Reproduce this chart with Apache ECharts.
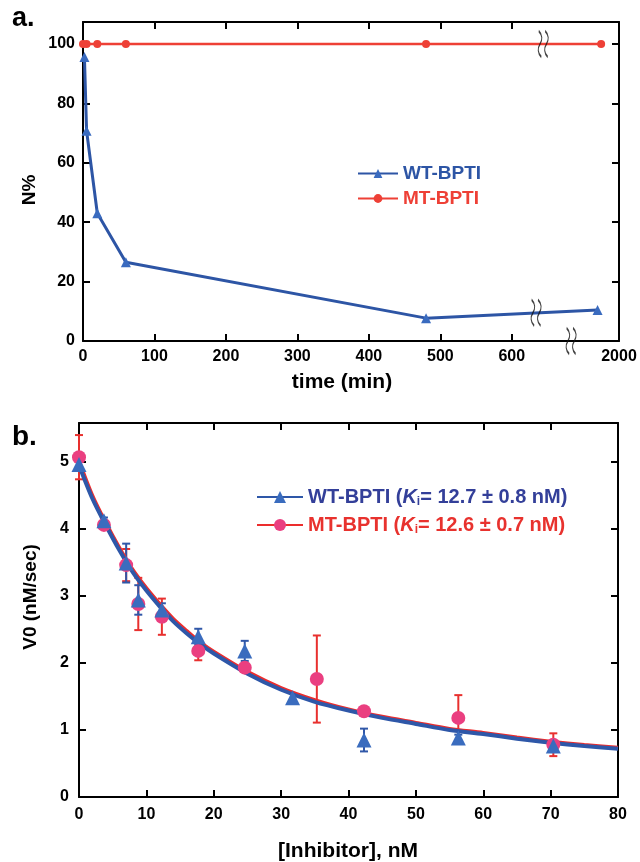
<!DOCTYPE html>
<html><head><meta charset="utf-8">
<script src="https://cdn.jsdelivr.net/npm/echarts@6/dist/echarts.min.js"></script>
<style>html,body{margin:0;padding:0;background:#fff}#c{width:640px;height:862px}</style>
</head><body><div id="c"></div>
<script>
// ---------- Panel a ----------
// time values are positions on the (broken) time axis as drawn
const aTimeWT = [2, 5, 20, 60, 480, 720];
const aWT = [95.6, 70.8, 43, 26.5, 7.7, 10.4];
const aTimeMT = [0, 5, 20, 60, 480, 725];
const aMT = [100, 100, 100, 100, 100, 100];
const aXTickValues = [100, 200, 300, 400, 500, 600];
const aXLabelValues = [0, 100, 200, 300, 400, 500, 600, 750];
const aXLabelTexts = ['0', '100', '200', '300', '400', '500', '600', '2000'];
const aBreakX = [634, 644, 683];
const aBreakY = [9.5, 100, 0];

// ---------- Panel b ----------
const bConcWT = [0, 3.7, 7.0, 8.8, 12.3, 17.7, 24.6, 31.7, 42.3, 56.3, 70.4];
const bWT = [4.96, 4.12, 3.49, 2.94, 2.79, 2.39, 2.18, 1.48, 0.85, 0.88, 0.76];
const bWTErr = [0, 0.05, 0.29, 0.22, 0.1, 0.12, 0.15, 0, 0.17, 0.05, 0.05];
const bConcMT = [0, 3.7, 7.0, 8.8, 12.3, 17.7, 24.6, 35.3, 42.3, 56.3, 70.4];
const bMT = [5.07, 4.06, 3.46, 2.88, 2.69, 2.18, 1.93, 1.76, 1.28, 1.18, 0.78];
const bMTErr = [0.33, 0.04, 0.24, 0.39, 0.27, 0.14, 0.06, 0.65, 0.03, 0.34, 0.17];
const fitConc = [0, 2, 4, 6, 8, 10, 12, 14, 16, 18, 20, 25, 30, 35, 40, 45, 50, 55, 60, 65, 70, 75, 80];
const fitWT = [4.95, 4.45, 4.05, 3.68, 3.35, 3.08, 2.84, 2.62, 2.44, 2.28, 2.14, 1.84, 1.60, 1.42, 1.29, 1.18, 1.09, 1.00, 0.94, 0.87, 0.81, 0.76, 0.72];
const fitMT = [5.02, 4.50, 4.09, 3.72, 3.39, 3.12, 2.88, 2.66, 2.48, 2.31, 2.17, 1.87, 1.63, 1.45, 1.31, 1.20, 1.11, 1.02, 0.96, 0.89, 0.83, 0.78, 0.74];

const zip = (xs, ys) => xs.map((x, i) => [x, ys[i]]);
const zip3 = (xs, ys, es) => xs.map((x, i) => [x, ys[i], es[i]]);

const FONT = 'Liberation Sans';
const BLUE_LINE = '#2D55A5', BLUE_MK = '#3A6BBF';
const RED_LINE = '#EE4036';
const B_RED = '#EC2D2D', B_PINK = '#EA3F80', B_BLUE = '#2E57A8', B_TRI = '#3A6CBE';

const axisBase = {
  axisLine: { show: true, onZero: false, lineStyle: { color: '#000', width: 2 } },
  axisTick: { show: true, inside: true, length: 7, lineStyle: { color: '#000', width: 2 } },
  splitLine: { show: false },
  axisLabel: { color: '#000', fontWeight: 'bold', fontSize: 16, fontFamily: FONT }
};
function ax(extra) { return Object.assign({}, JSON.parse(JSON.stringify(axisBase)), extra); }

function errRender(color) {
  return function (params, api) {
    const x = api.value(0), y = api.value(1), e = api.value(2);
    if (!e) return null;
    const t = api.coord([x, y + e]), b = api.coord([x, y - e]);
    const w = 4, st = { stroke: color, lineWidth: 2 };
    return { type: 'group', children: [
      { type: 'line', shape: { x1: t[0], y1: t[1], x2: b[0], y2: b[1] }, style: st },
      { type: 'line', shape: { x1: t[0] - w, y1: t[1], x2: t[0] + w, y2: t[1] }, style: st },
      { type: 'line', shape: { x1: b[0] - w, y1: b[1], x2: b[0] + w, y2: b[1] }, style: st }
    ] };
  };
}

const squiggle = 'path://M3,0 C9,8 9,17 5,25 C1,33 1,42 7,50 M13,0 C19,8 19,17 15,25 C11,33 11,42 17,50';

const option = {
  animation: false,
  backgroundColor: '#fff',
  grid: [
    { left: 83, right: 21, top: 22, height: 319 },
    { left: 79, right: 22, top: 423, height: 374 }
  ],
  xAxis: [
    ax({ type: 'value', gridIndex: 0, min: 0, max: 750, position: 'bottom',
      axisTick: Object.assign({}, axisBase.axisTick, { customValues: aXTickValues }),
      axisLabel: Object.assign({}, axisBase.axisLabel, { margin: 8, customValues: aXLabelValues,
        formatter: v => aXLabelTexts[aXLabelValues.indexOf(v)] ?? '' }) }),
    ax({ type: 'value', gridIndex: 0, min: 0, max: 750, position: 'top',
      axisTick: Object.assign({}, axisBase.axisTick, { customValues: aXTickValues }),
      axisLabel: { show: false } }),
    ax({ type: 'value', gridIndex: 1, min: 0, max: 80, interval: 10, position: 'bottom',
      axisLabel: Object.assign({}, axisBase.axisLabel, { margin: 10 }) }),
    ax({ type: 'value', gridIndex: 1, min: 0, max: 80, interval: 10, position: 'top', axisLabel: { show: false } })
  ],
  yAxis: [
    ax({ type: 'value', gridIndex: 0, min: 0, max: 107.4, interval: 20, position: 'left',
      axisLabel: Object.assign({}, axisBase.axisLabel, { margin: 8, showMaxLabel: false }) }),
    ax({ type: 'value', gridIndex: 0, min: 0, max: 107.4, interval: 20, position: 'right', axisLabel: { show: false } }),
    ax({ type: 'value', gridIndex: 1, min: 0, max: 5.58, interval: 1, position: 'left',
      axisLabel: Object.assign({}, axisBase.axisLabel, { margin: 10, showMaxLabel: false }) }),
    ax({ type: 'value', gridIndex: 1, min: 0, max: 5.58, interval: 1, position: 'right', axisLabel: { show: false } })
  ],
  legend: [
    { orient: 'vertical', left: 357, top: 164, padding: 0, itemWidth: 40, itemHeight: 11, itemGap: 6,
      data: [{ name: 'WT-BPTI', textStyle: { color: BLUE_LINE } }, { name: 'MT-BPTI', textStyle: { color: RED_LINE } }],
      textStyle: { fontFamily: FONT, fontWeight: 'bold', fontSize: 19 } },
    { orient: 'vertical', left: 256, top: 487, padding: 0, itemWidth: 46, itemHeight: 15, itemGap: 7,
      data: [{ name: 'WT fit', textStyle: { color: '#333F99' } }, { name: 'MT fit', textStyle: { color: '#E8322E' } }],
      textStyle: { fontFamily: FONT, fontWeight: 'bold', fontSize: 20,
        rich: {
          kb: { fontFamily: FONT, fontWeight: 'bold', fontStyle: 'italic', fontSize: 20, color: '#333F99' },
          sb: { fontFamily: FONT, fontWeight: 'bold', fontSize: 12, color: '#333F99', padding: [10, 0, 0, 0] },
          kr: { fontFamily: FONT, fontWeight: 'bold', fontStyle: 'italic', fontSize: 20, color: '#E8322E' },
          sr: { fontFamily: FONT, fontWeight: 'bold', fontSize: 12, color: '#E8322E', padding: [10, 0, 0, 0] }
        } },
      formatter: function (name) {
        if (name === 'WT fit') return 'WT-BPTI ({kb|K}{sb|i}= 12.7 ± 0.8 nM)';
        return 'MT-BPTI ({kr|K}{sr|i}= 12.6 ± 0.7 nM)';
      } }
  ],
  graphic: [
    { type: 'text', left: 12, top: 5, style: { text: 'a.', font: 'bold 27px ' + FONT, fill: '#000' } },
    { type: 'text', left: 12, top: 423, style: { text: 'b.', font: 'bold 28px ' + FONT, fill: '#000' } },
    { type: 'text', x: 30, y: 190, rotation: Math.PI / 2, style: { text: 'N%', font: 'bold 19px ' + FONT, fill: '#000', align: 'center', verticalAlign: 'middle' } },
    { type: 'text', x: 342, y: 382, style: { text: 'time (min)', font: 'bold 21px ' + FONT, fill: '#000', align: 'center', verticalAlign: 'middle' } },
    { type: 'text', x: 31, y: 597, rotation: Math.PI / 2, style: { text: 'V0 (nM/sec)', font: 'bold 19px ' + FONT, fill: '#000', align: 'center', verticalAlign: 'middle' } },
    { type: 'text', x: 348, y: 851, style: { text: '[Inhibitor], nM', font: 'bold 21px ' + FONT, fill: '#000', align: 'center', verticalAlign: 'middle' } }
  ],
  series: [
    // panel a
    { name: 'MT-BPTI', type: 'line', xAxisIndex: 0, yAxisIndex: 0, data: zip(aTimeMT, aMT),
      symbol: 'circle', symbolSize: 8, lineStyle: { color: RED_LINE, width: 2.5 }, itemStyle: { color: RED_LINE }, clip: false, z: 3 },
    { name: 'WT-BPTI', type: 'line', xAxisIndex: 0, yAxisIndex: 0, data: zip(aTimeWT, aWT),
      symbol: 'triangle', symbolSize: 10, lineStyle: { color: BLUE_LINE, width: 3 }, itemStyle: { color: BLUE_MK }, clip: false, z: 3 },
    { name: 'breaks', type: 'scatter', xAxisIndex: 0, yAxisIndex: 0, data: zip(aBreakX, aBreakY), clip: false, silent: true,
      symbol: squiggle, symbolSize: [10, 26], itemStyle: { color: 'rgba(0,0,0,0)', borderColor: '#111', borderWidth: 1.6 }, z: 5 },
    // panel b
    { name: 'MT err', type: 'custom', xAxisIndex: 2, yAxisIndex: 2, data: zip3(bConcMT, bMT, bMTErr),
      renderItem: errRender('#E8302E'), encode: { x: 0, y: 1 }, clip: false, z: 3 },
    { name: 'WT err', type: 'custom', xAxisIndex: 2, yAxisIndex: 2, data: zip3(bConcWT, bWT, bWTErr),
      renderItem: errRender('#3057A8'), encode: { x: 0, y: 1 }, clip: false, z: 3 },
    { name: 'MT fit', type: 'line', xAxisIndex: 2, yAxisIndex: 2, data: zip(fitConc, fitMT), smooth: 0.3,
      symbol: 'circle', symbolSize: 13, showSymbol: false, lineStyle: { color: B_RED, width: 3.5 }, itemStyle: { color: B_PINK }, z: 4 },
    { name: 'WT fit', type: 'line', xAxisIndex: 2, yAxisIndex: 2, data: zip(fitConc, fitWT), smooth: 0.3,
      symbol: 'triangle', symbolSize: 15, showSymbol: false, lineStyle: { color: B_BLUE, width: 4 }, itemStyle: { color: B_TRI }, z: 4 },
    { name: 'MT data', type: 'scatter', xAxisIndex: 2, yAxisIndex: 2, data: zip(bConcMT, bMT),
      symbol: 'circle', symbolSize: 14, itemStyle: { color: B_PINK, opacity: 1 }, clip: false, z: 5 },
    { name: 'WT data', type: 'scatter', xAxisIndex: 2, yAxisIndex: 2, data: zip(bConcWT, bWT),
      symbol: 'triangle', symbolSize: 15, itemStyle: { color: B_TRI, opacity: 1 }, clip: false, z: 6 }
  ]
};

const chart = echarts.init(document.getElementById('c'), null, { renderer: 'canvas' });
chart.setOption(option);
</script></body></html>
